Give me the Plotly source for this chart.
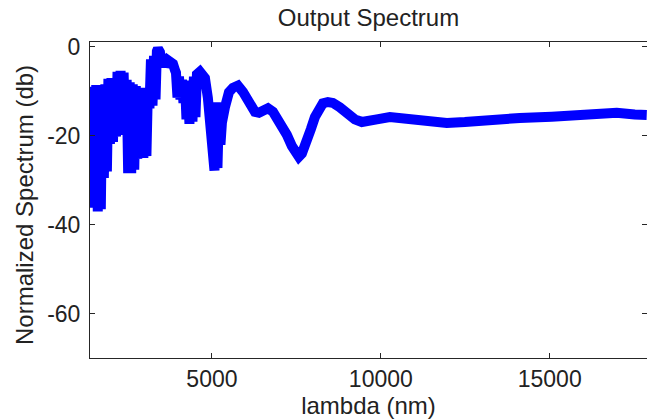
import plotly.graph_objects as go

# Wavelength samples (nm) and normalized spectrum (dB)
lambda_nm = [
    1400, 1440, 1485, 1530, 1575, 1620, 1665, 1710, 1755, 1800,
    1845, 1890, 1935, 1980, 2025, 2070, 2115, 2160, 2205, 2250,
    2295, 2340, 2385, 2430, 2475, 2520, 2565, 2610, 2655, 2700,
    2745, 2790, 2835, 2880, 2925, 2970, 3015, 3060, 3105, 3150,
    3195, 3240, 3285, 3330, 3370, 3402, 3461, 3520, 3560, 3610,
    3698, 3787, 3846, 3905, 3935, 3980, 4024, 4068, 4112, 4157,
    4201, 4246, 4290, 4334, 4379, 4423, 4467, 4512, 4556, 4645,
    4734, 4793, 4880, 4941, 4990, 5030, 5075, 5119, 5163, 5208,
    5252, 5296, 5385, 5504, 5622, 5769, 5917, 6036, 6154, 6272,
    6391, 6509, 6657, 6805, 6953, 7101, 7219, 7367, 7486, 7574,
    7663, 7811, 7929, 8048, 8166, 8284, 8432, 8580, 8787, 8995,
    9232, 9438, 9675, 9882, 10267, 10770, 11243, 11954, 12486, 12930,
    13522, 14114, 15061, 15386, 16096, 16984, 17517, 17872,
]
spectrum_db = [
    -9.8, -34.8, -9.0, -36.2, -8.6, -37.0, -9.0, -36.5, -9.4, -29.5,
    -8.4, -28.0, -7.2, -21.8, -7.0, -21.4, -7.0, -20.2, -5.6, -19.8,
    -5.4, -19.5, -5.8, -19.2, -7.4, -28.4, -8.0, -28.4, -8.4, -27.6,
    -8.8, -25.2, -9.2, -25.0, -9.4, -25.0, -9.6, -24.6, -9.2, -13.8,
    -2.8, -13.2, -2.0, -11.8, -1.0, -0.4, -1.2, -4.6, -1.8, -4.4,
    -3.0, -3.3, -3.8, -5.2, -5.8, -11.4, -6.7, -11.8, -7.4, -12.6,
    -7.9, -16.3, -8.1, -17.3, -7.6, -16.8, -6.7, -15.8, -6.2, -5.6,
    -6.2, -7.0, -11.5, -16.4, -22.0, -22.5, -27.8, -12.5, -27.3, -14.0,
    -22.0, -17.0, -13.6, -10.2, -9.2, -8.7, -10.1, -11.6, -13.5, -14.6,
    -14.8, -14.1, -13.8, -14.6, -16.2, -18.0, -19.8, -22.3, -24.2, -24.7,
    -24.0, -21.6, -18.5, -15.8, -13.8, -12.7, -12.4, -12.6, -13.6, -14.9,
    -16.3, -16.9, -16.8, -16.3, -15.8, -16.1, -16.8, -17.1, -16.9, -16.6,
    -16.1, -16.0, -15.7, -15.5, -15.1, -14.8, -15.2, -15.3,
]

x_ticks = [5000, 10000, 15000]
y_ticks = [0, -20, -40, -60]

FONT = "Liberation Sans, Arial, Helvetica, sans-serif"
TXT = "#222222"

fig = go.Figure(
    go.Scatter(
        x=lambda_nm,
        y=spectrum_db,
        mode="lines",
        line=dict(color="#0000ff", width=10),
        hoverinfo="skip",
    )
)

axis_common = dict(
    showline=True,
    linecolor="#262626",
    linewidth=1,
    mirror="allticks",
    ticks="inside",
    ticklen=5,
    tickcolor="#262626",
    showgrid=False,
    zeroline=False,
    tickfont=dict(family=FONT, size=23, color=TXT),
)

fig.update_layout(
    width=647,
    height=419,
    margin=dict(l=90, r=0, t=42, b=61),
    paper_bgcolor="white",
    plot_bgcolor="white",
    showlegend=False,
    title=dict(
        text="Output Spectrum",
        font=dict(family=FONT, size=24, color=TXT),
        x=0.5,
        xanchor="center",
        xref="paper",
        yref="container",
        y=1 - 18 / 419,
        yanchor="middle",
    ),
    xaxis=dict(
        range=[1390, 17880],
        tickvals=x_ticks,
        ticktext=[str(v) for v in x_ticks],
        title=dict(text="lambda (nm)", font=dict(family=FONT, size=24, color=TXT), standoff=0),
        **axis_common,
    ),
    yaxis=dict(
        range=[-70, 1.1],
        tickvals=y_ticks,
        ticktext=[str(v) for v in y_ticks],
        ticklabelstandoff=4,
        **axis_common,
    ),
    annotations=[
        dict(
            text="Normalized Spectrum (db)",
            textangle=-90,
            xref="paper",
            yref="paper",
            x=(24 - 90) / 557,
            y=(358 - 205) / 316,
            xanchor="center",
            yanchor="middle",
            showarrow=False,
            font=dict(family=FONT, size=24, color=TXT),
        )
    ],
)

fig.write_html(
    "out.html",
    config={"displayModeBar": False},
    post_script="document.body.style.margin='0';",
)
